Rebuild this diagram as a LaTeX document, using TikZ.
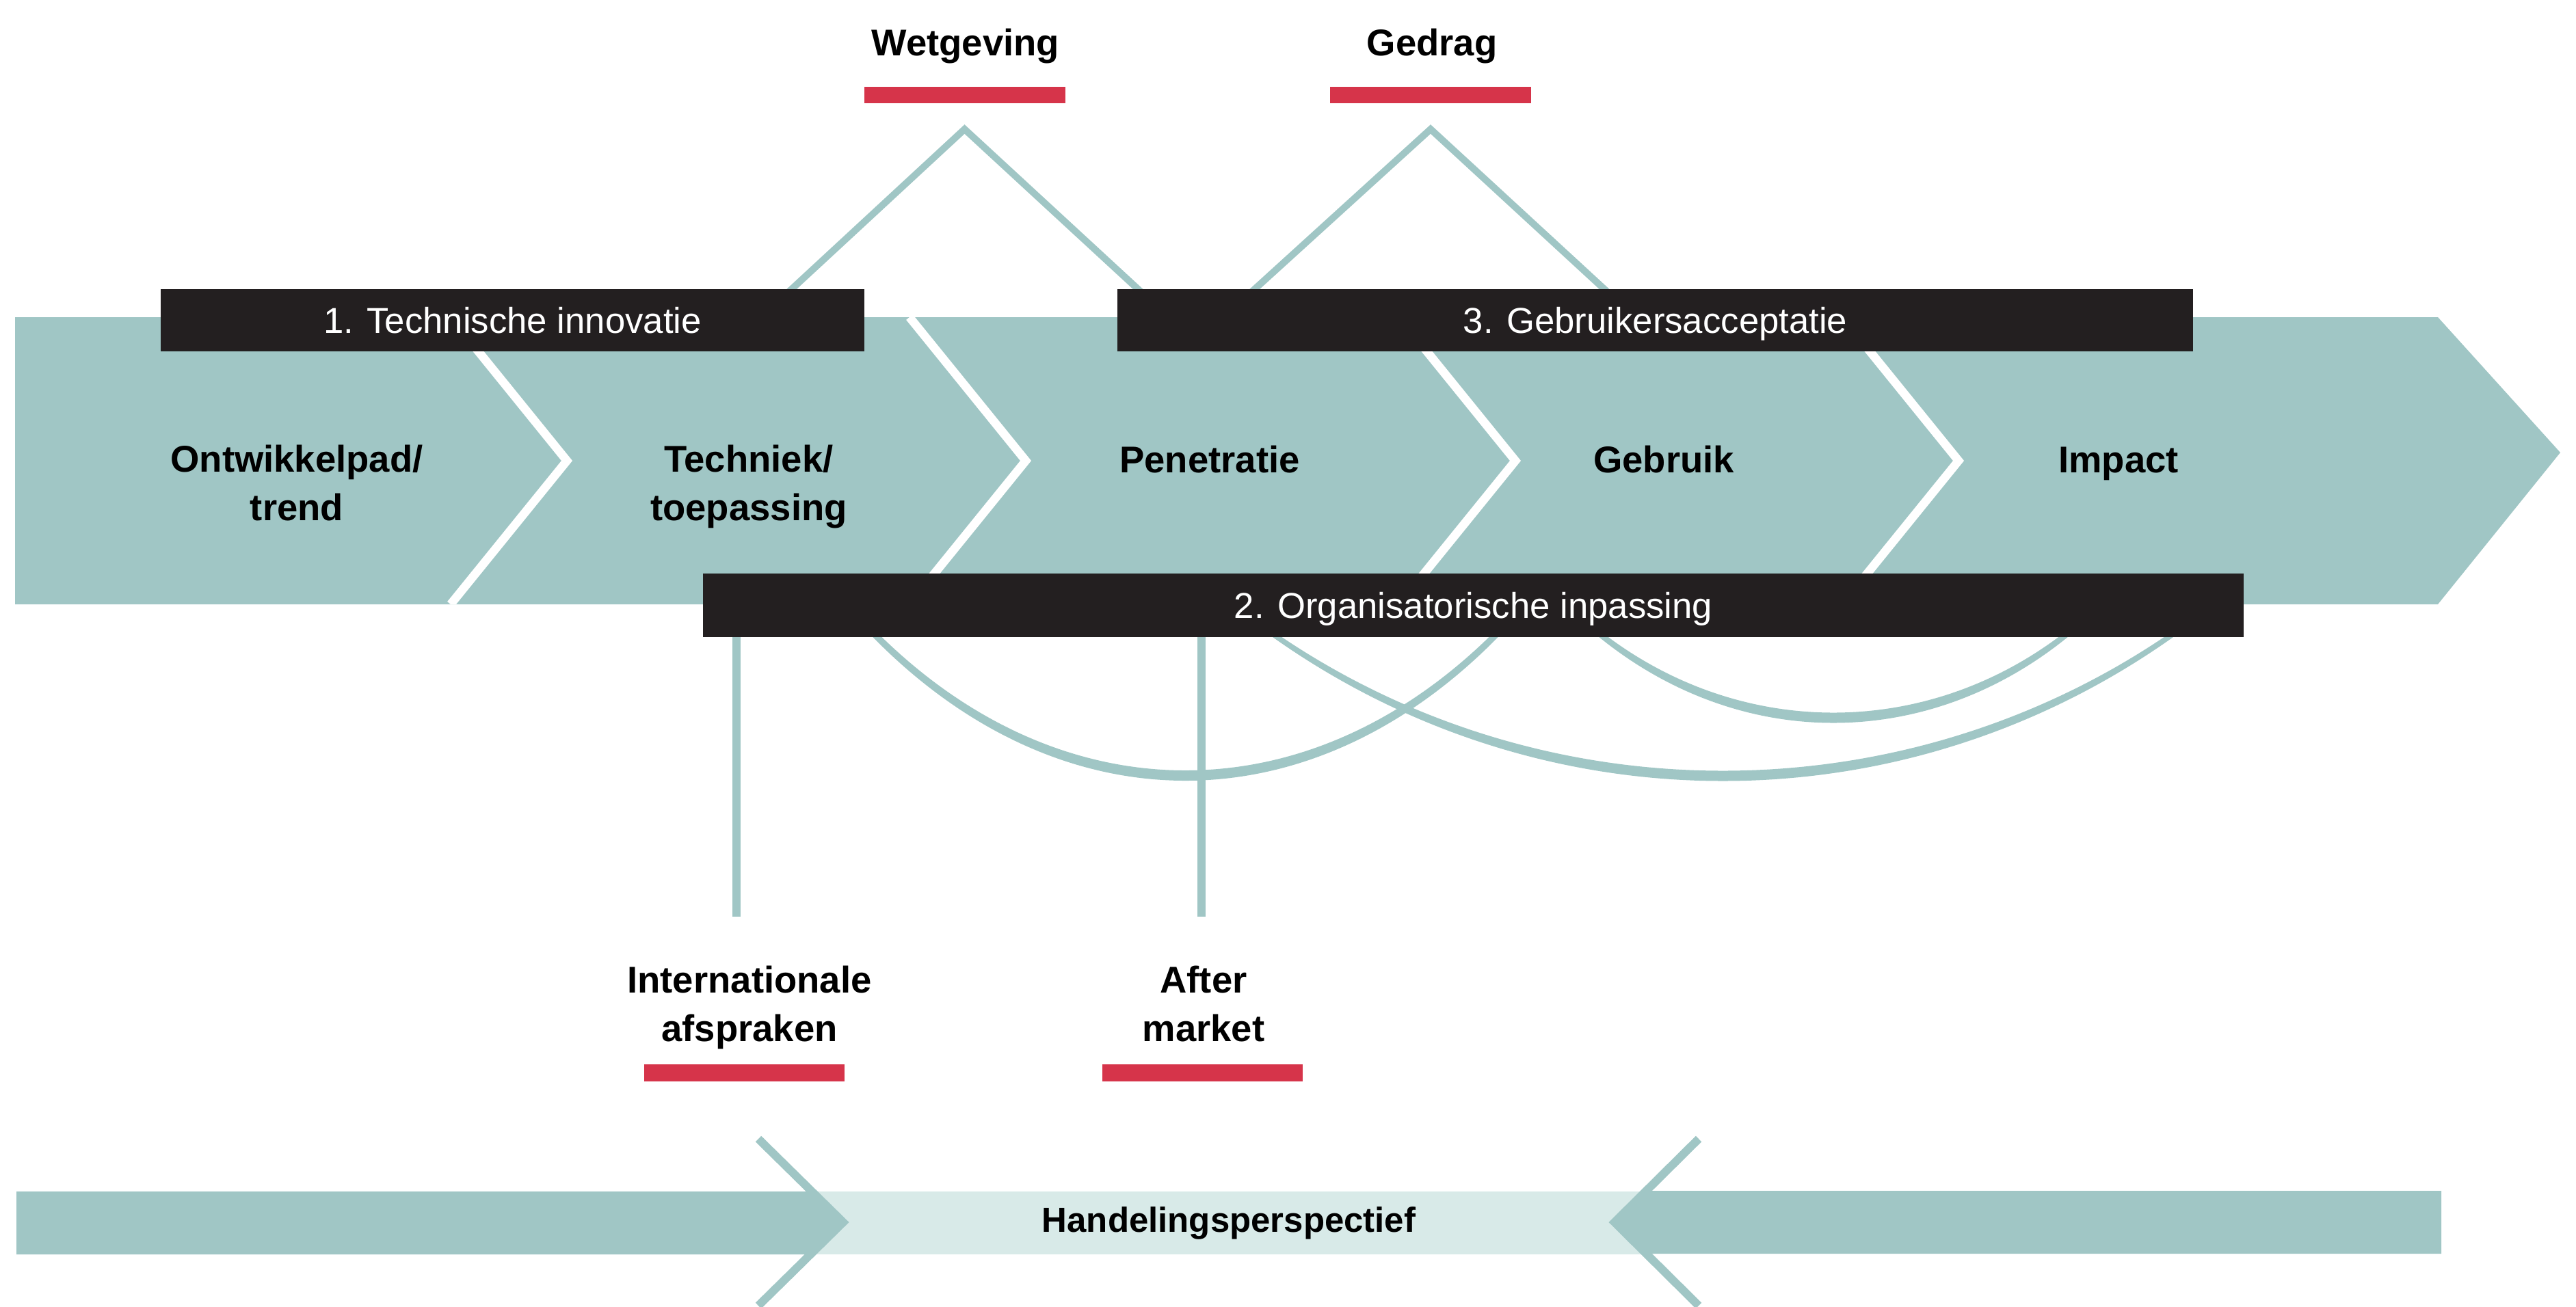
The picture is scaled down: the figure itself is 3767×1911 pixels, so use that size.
\documentclass[tikz,border=0pt]{standalone}
\usepackage{fontspec}
\setmainfont{Liberation Sans}
\usetikzlibrary{calc, positioning}
\definecolor{bandTeal}{HTML}{A0C6C5}
\definecolor{bandLight}{HTML}{D8EAE8}
\definecolor{barRed}{HTML}{D6344A}
\definecolor{boxBlack}{HTML}{231F20}
\tikzset{
    phaseLabel/.style={font=\fontsize{15.5}{20}\selectfont\bfseries, align=center, anchor=base, inner sep=0pt},
    phaseBox/.style={fill=boxBlack, text=white, inner sep=0pt, minimum height=9.1mm, font=\fontsize{15}{18}\selectfont, text height=10.7pt, text depth=0pt},
    redBar/.style={fill=barRed, inner sep=0pt, minimum width=29.4mm, minimum height=2.45mm},
    link/.style={draw=bandTeal, line width=1mm},
    drop/.style={draw=bandTeal, line width=1.2mm},
    swoop/.style={fill=bandTeal},
    sepLine/.style={draw=white, line width=1.25mm},
    bandLine/.style={draw=bandTeal, line width=1.2mm},
}
\newcommand{\drawSwoop}[3]{
    % #1 linker eind, #2 rechter eind, #3 diepte onder het blok
    \pgfmathsetmacro{\swOut}{0.3*(#2-#1+13)}
    \pgfmathsetmacro{\swIn}{0.3*(#2-#1-13)}
    \pgfmathsetmacro{\dpOut}{4/3*(#3+7.5)}
    \pgfmathsetmacro{\dpIn}{4/3*(#3-7.5)}
    \fill[swoop] (#1-6.5,928) .. controls (#1-6.5+\swOut,928+\dpOut) and (#2+6.5-\swOut,928+\dpOut) .. (#2+6.5,928)
        -- (#2-6.5,928) .. controls (#2-6.5-\swIn,928+\dpIn) and (#1+6.5+\swIn,928+\dpIn) .. (#1+6.5,928) -- cycle;
}

\begin{document}
\begin{tikzpicture}[x=0.1mm, y=-0.1mm]

        \useasboundingbox (0,0) rectangle (3767,1911);

        % factoren boven
        \node[phaseLabel] (wet) at (1412,81) {Wetgeving};
        \node[phaseLabel] (gedrag) at (2094,81) {Gedrag};
        \node[redBar] (wetBar) at (1410.5,139) {};
        \node[redBar] (gedragBar) at (2092,139) {};
        \coordinate (wetApex) at ($(wetBar.south)+(0,37)$);
        \coordinate (gedragApex) at ($(gedragBar.south)+(0,37)$);
        \coordinate (wetL) at (1096,480);
        \coordinate (wetR) at (1726,480);
        \coordinate (gedragL) at (1772,480);
        \coordinate (gedragR) at (2408,480);
        \draw[link] (wetL) -- (wetApex) -- (wetR);
        \draw[link] (gedragL) -- (gedragApex) -- (gedragR);

        % factoren onder
        \coordinate (orgMid) at (2154.5,885.5);
        \coordinate (intlFoot) at (1077,1341);
        \coordinate (afterFoot) at (1757,1341);
        \draw[drop] (intlFoot |- orgMid) -- (intlFoot);
        \draw[drop] (afterFoot |- orgMid) -- (afterFoot);
        \drawSwoop{1279}{2188}{206.5}
        \drawSwoop{1862}{3177}{207}
        \drawSwoop{2340}{3022}{122}

        % fasen
        \fill[bandTeal] (22,464) -- (3565,464) -- (3744,662) -- (3565,884) -- (22,884) -- cycle;
        \begin{scope}
            \clip (22,464) -- (3565,464) -- (3744,662) -- (3565,884) -- (22,884) -- cycle;
            \foreach \tip in {829,1500,2216,2864}
                \draw[sepLine] (\tip-170,464) -- (\tip,674) -- (\tip-170,884);
        \end{scope}

        \node[phaseLabel] (ontw) at (434,761) {Ontwikkelpad/\\trend};
        \node[phaseLabel] (tech) at (1095,761) {Techniek/\\toepassing};
        \node[phaseLabel] (pen) at (1769,691) {Penetratie};
        \node[phaseLabel] (gebr) at (2433,691) {Gebruik};
        \node[phaseLabel] (impact) at (3098,691) {Impact};

        \node[phaseBox, minimum width=102.9mm] (techBox) at (749.5,468.5) {1. Technische innovatie};
        \node[phaseBox, minimum width=157.3mm] (userBox) at (2420.5,468.5) {3. Gebruikersacceptatie};
        \node[phaseBox, minimum width=225.3mm, minimum height=9.3mm] (org) at (orgMid) {2. Organisatorische inpassing};

        \node[phaseLabel] (intl) at (1096,1523) {Internationale\\afspraken};
        \node[phaseLabel] (after) at (1760,1523) {After\\market};
        \node[redBar, minimum width=29.3mm, minimum height=2.5mm] (intlBar) at (1088.5,1569.5) {};
        \node[redBar, minimum width=29.3mm, minimum height=2.5mm] (afterBar) at (1758.5,1569.5) {};

        % handelingsperspectief
        \fill[bandLight] (1188,1743) rectangle (2406,1835);
        \fill[bandTeal] (24,1743) -- (1188,1743) -- (1233,1788) -- (1188,1835) -- (24,1835) -- cycle;
        \fill[bandTeal] (3570,1742) -- (2406,1742) -- (2361,1788) -- (2406,1834) -- (3570,1834) -- cycle;
        \draw[bandLine] (1109,1666) -- (1233,1788) -- (1109,1910);
        \draw[bandLine] (2484,1666) -- (2361,1788) -- (2484,1910);
        \node[phaseLabel, font=\fontsize{14.5}{18}\selectfont\bfseries] (handel) at (1797,1802) {Handelingsperspectief};

    \end{tikzpicture}
\end{document}
